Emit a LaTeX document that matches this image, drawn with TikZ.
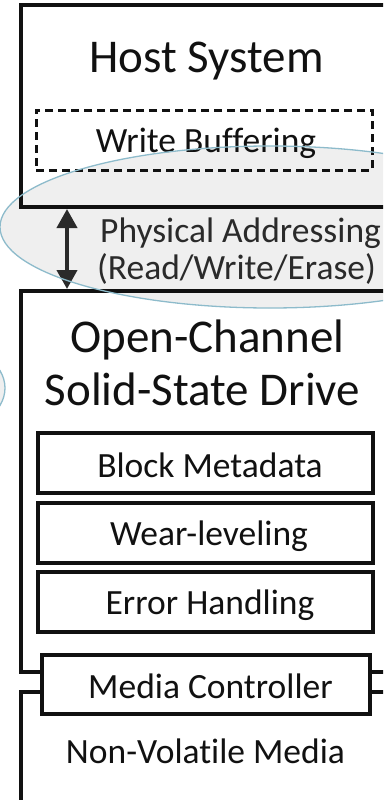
\documentclass[tikz,border=0pt]{standalone}
\usepackage{fontspec}
\setmainfont[Ligatures=NoCommon]{Carlito}
\usetikzlibrary{arrows.meta}
\definecolor{ink}{HTML}{111111}
\definecolor{softink}{HTML}{2A2A2A}
\definecolor{haze}{HTML}{EFEFEF}
\definecolor{rim}{HTML}{8DBBCB}
\begin{document}
\begin{tikzpicture}[x=1pt,y=-1pt,
  frame/.style={draw=ink, line width=4pt, rectangle, inner sep=0pt},
  layer/.style={draw=ink, line width=3.5pt, rectangle, inner sep=0pt,
    minimum width=335pt, minimum height=60pt},
  buffer/.style={draw=ink, line width=3pt, rectangle, inner sep=0pt,
    dash pattern=on 8pt off 5pt},
  title/.style={text=ink, anchor=base, inner sep=0pt, font=\fontsize{47}{50}\selectfont},
  label/.style={text=ink, anchor=base, inner sep=0pt, font=\fontsize{35.5}{38}\selectfont},
  note/.style={text=softink, anchor=base west, inner sep=0pt, font=\fontsize{35.5}{38}\selectfont},
  zone/.style={fill=haze},
  zonerim/.style={draw=rim, line width=1.3pt},
  twoway/.style={draw=softink, line width=4pt,
    {Triangle[width=20pt,length=19pt]}-{Triangle[width=20pt,length=19pt]}}]
\clip (0,0) rectangle (383,800);

% shaded zone around the host/drive interface
\fill[zone] (270,227) ellipse [x radius=270pt, y radius=81pt];
\fill[zone] (-60,388) ellipse [x radius=65pt, y radius=45pt];

% host side
\node[frame, minimum width=420pt, minimum height=202pt] (host) at (231,106) {};
\node[title] (hostlbl) at (206.5,73) {Host System};
\node[buffer, minimum width=336pt, minimum height=60pt] (wbuf) at (204,140) {};
\node[label] (wbuflbl) at (206,152) {Write Buffering};

% drive side
\node[frame, minimum width=420pt, minimum height=381pt] (ocssd) at (231,481.5) {};
\node[title] (ocssdlbl1) at (207.5,352) {Open-Channel};
\node[title] (ocssdlbl2) at (202.5,405) {Solid-State Drive};
\node[layer] (meta) at (205.5,463) {};
\node[label] (metalbl) at (210,477) {Block Metadata};
\node[layer] (wear) at (205.5,533) {};
\node[label] (wearlbl) at (209,545) {Wear-leveling};
\node[layer] (err) at (205.5,602) {};
\node[label] (errlbl) at (210,614) {Error Handling};

% media
\node[frame, minimum width=420pt, minimum height=208pt] (nvm) at (231,796) {};
\node[label] (nvmlbl) at (205.5,763) {Non-Volatile Media};
\node[frame, fill=white, line width=3.5pt, minimum width=328pt, minimum height=59pt] (mc) at (206,684.5) {};
\node[label] (mclbl) at (210.5,698) {Media Controller};

% interface
\coordinate (ax) at (67,0);
\draw[twoway] (host.south -| ax) -- (ocssd.north -| ax);
\node[note] (iface1) at (100,242) {Physical Addressing};
\node[note] (iface2) at (97,279) {(Read/Write/Erase)};

% zone outlines on top
\draw[zonerim] (270,227) ellipse [x radius=270pt, y radius=81pt];
\draw[zonerim] (-60,388) ellipse [x radius=65pt, y radius=45pt];
\end{tikzpicture}
\end{document}
